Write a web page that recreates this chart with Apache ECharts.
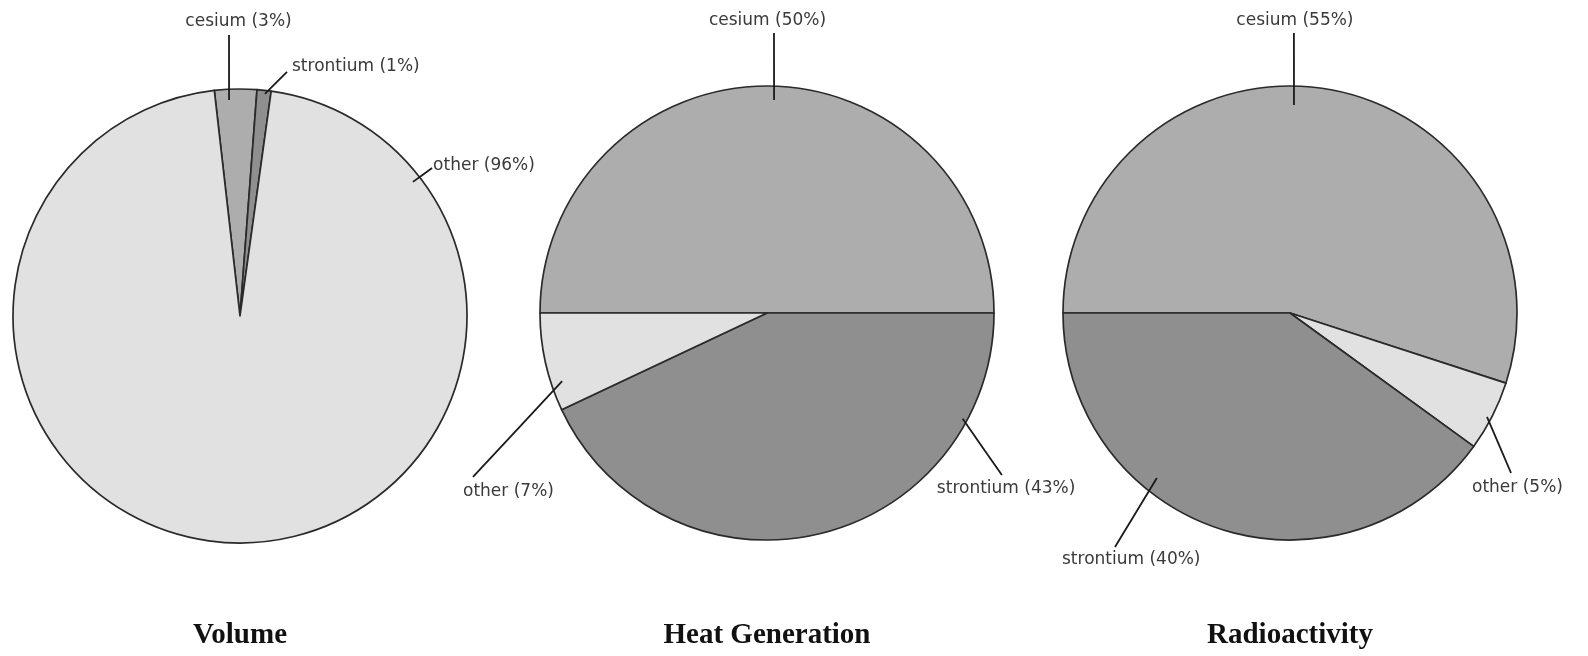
<!DOCTYPE html>
<html>
<head>
<meta charset="utf-8">
<script src="https://cdn.jsdelivr.net/npm/echarts@6/dist/echarts.min.js"></script>
<style>
  html, body { margin: 0; padding: 0; background: #ffffff; }
  #chart { width: 1588px; height: 656px; }
</style>
</head>
<body>
<div id="chart"></div>
<script>
// Composition of the waste: share of each fission product (%)
const categories = ['cesium', 'strontium', 'other'];
const chartTitles = ['Volume', 'Heat Generation', 'Radioactivity'];
const volumeShare = [3, 1, 96];
const heatShare = [50, 43, 7];
const radioShare = [55, 40, 5];

const shares = [volumeShare, heatShare, radioShare];

// clockwise drawing order of the slices in each pie
const sliceOrder = [
  ['cesium', 'strontium', 'other'],
  ['cesium', 'strontium', 'other'],
  ['cesium', 'other', 'strontium']
];

const fills = { cesium: '#adadad', strontium: '#8f8f8f', other: '#e1e1e1' };

// pie frames
const pies = [
  { cx: 240, cy: 316, r: 227, startAngle: 96.5 },
  { cx: 767, cy: 313, r: 227, startAngle: 180 },
  { cx: 1290, cy: 313, r: 227, startAngle: 180 }
];

// leader lines: inner end (a0, f0) and outer end (a1, f1) as angle / radius factor,
// text placed at an offset from the outer end
const leaders = [
  {
    cesium:    { a0: 92.9,  f0: 0.953, a1: 92.24, f1: 1.239, dx: 9.5, dy: -13, align: 'center' },
    strontium: { a0: 83.6,  f0: 0.985, a1: 79.1,  f1: 1.095, dx: 5,   dy: -5,  align: 'left' },
    other:     { a0: 37.8,  f0: 0.964, a1: 37.6,  f1: 1.068, dx: 1,   dy: -3,  align: 'left' }
  },
  {
    cesium:    { a0: 88.1,  f0: 0.939, a1: 88.57, f1: 1.234, dx: -6.5, dy: -12, align: 'center' },
    strontium: { a0: -28.4, f0: 0.98,  a1: -34.6, f1: 1.257, dx: -65,  dy: 14,  align: 'left' },
    other:     { a0: 198.4, f0: 0.951, a1: 209.15, f1: 1.483, dx: -10, dy: 15,  align: 'left' }
  },
  {
    cesium:    { a0: 88.9,  f0: 0.916, a1: 89.2,  f1: 1.234, dx: 1,   dy: -12, align: 'center' },
    other:     { a0: -27.8, f0: 0.981, a1: -35.9, f1: 1.202, dx: -39, dy: 15,  align: 'left' },
    strontium: { a0: 231.1, f0: 0.934, a1: 233.2, f1: 1.287, dx: -53, dy: 13,  align: 'left' }
  }
];

function polar(pie, angleDeg, factor) {
  const t = angleDeg * Math.PI / 180;
  return [pie.cx + pie.r * factor * Math.cos(t), pie.cy - pie.r * factor * Math.sin(t)];
}

function buildData(i, transparent) {
  return sliceOrder[i].map(function (name) {
    const k = categories.indexOf(name);
    return {
      name: name,
      value: shares[i][k],
      itemStyle: { color: transparent ? 'rgba(0,0,0,0)' : fills[name] }
    };
  });
}

// filled slices with their outlines
function makePie(i) {
  const pie = pies[i];
  return {
    type: 'pie',
    z: 2,
    center: [pie.cx, pie.cy],
    radius: pie.r,
    startAngle: pie.startAngle,
    clockwise: true,
    animation: false,
    silent: true,
    itemStyle: { borderColor: '#2a2a2a', borderWidth: 1.7 },
    label: { show: false },
    labelLine: { show: false },
    emphasis: { disabled: true },
    data: buildData(i, false)
  };
}

// same slices, unfilled, carrying the labels so the leaders run over the fills
function makeLabels(i) {
  const pie = pies[i];
  return {
    type: 'pie',
    z: 5,
    center: [pie.cx, pie.cy],
    radius: pie.r,
    startAngle: pie.startAngle,
    clockwise: true,
    avoidLabelOverlap: false,
    animation: false,
    silent: true,
    itemStyle: { borderWidth: 0 },
    label: {
      show: true,
      position: 'outside',
      formatter: '{b} ({c}%)',
      fontFamily: 'DejaVu Sans',
      fontSize: 17,
      color: '#3a3a3a'
    },
    labelLine: {
      show: true,
      length: 5,
      length2: 5,
      smooth: false,
      lineStyle: { color: '#1a1a1a', width: 1.8 }
    },
    labelLayout: function (params) {
      const name = sliceOrder[i][params.dataIndex];
      const ld = leaders[i][name];
      const p0 = polar(pie, ld.a0, ld.f0);
      const p1 = polar(pie, ld.a1, ld.f1);
      const mid = [(p0[0] + p1[0]) / 2, (p0[1] + p1[1]) / 2];
      return {
        x: p1[0] + ld.dx,
        y: p1[1] + ld.dy,
        align: ld.align,
        verticalAlign: 'middle',
        labelLinePoints: [p0, mid, p1]
      };
    },
    emphasis: { disabled: true },
    data: buildData(i, true)
  };
}

const chart = echarts.init(document.getElementById('chart'), null, { renderer: 'canvas' });
chart.setOption({
  backgroundColor: '#ffffff',
  animation: false,
  series: [0, 1, 2].map(makePie).concat([0, 1, 2].map(makeLabels)),
  graphic: chartTitles.map(function (t, i) {
    return {
      type: 'text',
      x: pies[i].cx,
      y: 636,
      silent: true,
      style: {
        text: t,
        fill: '#111111',
        font: 'bold 29px "Liberation Serif"',
        textAlign: 'center',
        textVerticalAlign: 'middle'
      }
    };
  })
});
</script>
</body>
</html>
